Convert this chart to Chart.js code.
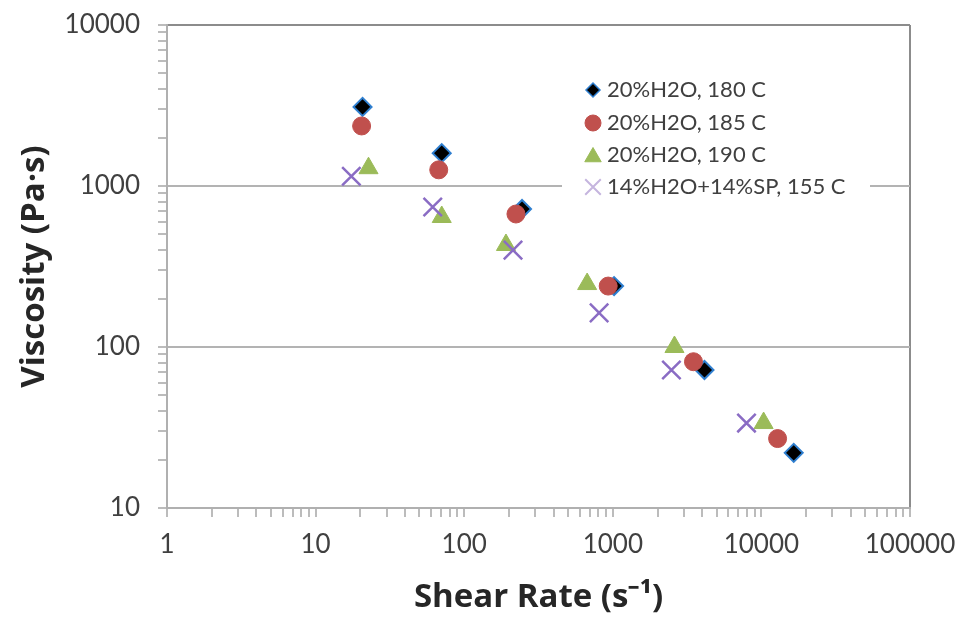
<!DOCTYPE html>
<html><head><meta charset="utf-8">
<script src="https://cdn.jsdelivr.net/npm/chart.js@4.4.1/dist/chart.umd.min.js"></script>
<style>html,body{margin:0;padding:0;background:#fff;} canvas{display:block;}</style>
</head><body>
<canvas id="c" width="961" height="624"></canvas>
<script>
const seriesLabels = ['20%H2O, 180 C', '20%H2O, 185 C', '20%H2O, 190 C', '14%H2O+14%SP, 155 C'];
const rate180 = [20.7, 70.6, 245, 1020, 4140, 16500];
const visc180 = [3100, 1600, 720, 239, 72, 22];
const rate185 = [20.4, 67.4, 223, 931, 3490, 12850];
const visc185 = [2360, 1260, 670, 239, 81, 27];
const rate190 = [22.7, 70.6, 191, 672, 2600, 10350];
const visc190 = [1290, 642, 430, 246, 100, 33.7];
const rate155 = [17.4, 61.4, 213, 809, 2480, 7940];
const visc155 = [1150, 741, 400, 163, 72, 33.7];
const xTickLabels = [1, 10, 100, 1000, 10000, 100000];
const yTickLabels = [10, 100, 1000, 10000];

function pts(xs, ys) { return xs.map((x, i) => ({x: x, y: ys[i]})); }
function logTicks(labels) {
  const out = [];
  for (let i = 0; i < labels.length; i++) {
    const d = labels[i];
    out.push({value: d, major: true});
    if (i < labels.length - 1) for (let m = 2; m <= 9; m++) out.push({value: d * m});
  }
  return out;
}

const legendPlugin = {
  id: 'boxLegend',
  afterDatasetsDraw(chart) {
    const ctx = chart.ctx;
    ctx.save();
    ctx.fillStyle = '#ffffff';
    ctx.fillRect(562, 68, 308, 138);
    const rows = [90, 123, 155, 187];
    const mk = [
      {pointStyle: 'rectRot', radius: 7, borderWidth: 1.5, fill: '#000000', stroke: '#2f7fd0'},
      {pointStyle: 'circle', radius: 8, borderWidth: 1, fill: '#c0504d', stroke: '#c0504d'},
      {pointStyle: 'triangle', radius: 9.5, borderWidth: 1, fill: '#9bbb59', stroke: '#9bbb59'},
      {pointStyle: 'crossRot', radius: 11, borderWidth: 2, fill: '#c5b5de', stroke: '#c5b5de'}
    ];
    for (let i = 0; i < seriesLabels.length; i++) {
      const m = mk[i];
      ctx.fillStyle = m.fill; ctx.strokeStyle = m.stroke; ctx.lineWidth = m.borderWidth;
      const yy = m.pointStyle === 'triangle' ? rows[i] + 2 : rows[i];
      Chart.helpers.drawPoint(ctx, {pointStyle: m.pointStyle, radius: m.radius, borderWidth: m.borderWidth, rotation: 0}, 593, yy);
      ctx.fillStyle = '#404040';
      ctx.font = '22px Lato';
      ctx.textBaseline = 'middle';
      ctx.textAlign = 'left';
      ctx.fillText(seriesLabels[i], 607, rows[i]);
    }
    ctx.restore();
  }
};

new Chart(document.getElementById('c'), {
  type: 'scatter',
  data: {
    datasets: [
      {label: seriesLabels[0], data: pts(rate180, visc180), pointStyle: 'rectRot', pointRadius: 9, pointHoverRadius: 9,
       backgroundColor: '#000000', borderColor: '#2f7fd0', borderWidth: 2, order: 4},
      {label: seriesLabels[1], data: pts(rate185, visc185), pointStyle: 'circle', pointRadius: 9, pointHoverRadius: 9,
       backgroundColor: '#c0504d', borderColor: '#c0504d', borderWidth: 1, order: 3},
      {label: seriesLabels[2], data: pts(rate190, visc190), pointStyle: 'triangle', pointRadius: 11, pointHoverRadius: 11,
       backgroundColor: '#9bbb59', borderColor: '#9bbb59', borderWidth: 1, order: 2},
      {label: seriesLabels[3], data: pts(rate155, visc155), pointStyle: 'crossRot', pointRadius: 13, pointHoverRadius: 13,
       backgroundColor: '#8a6cc4', borderColor: '#8a6cc4', borderWidth: 2.5, order: 1}
    ]
  },
  options: {
    responsive: false,
    animation: false,
    devicePixelRatio: 1,
    layout: {padding: {top: 25, right: 51, left: 0, bottom: 0}},
    plugins: {legend: {display: false}, tooltip: {enabled: false}},
    scales: {
      x: {
        type: 'logarithmic', min: 1, max: 100000,
        afterBuildTicks(s) { s.ticks = logTicks(xTickLabels); },
        afterFit(s) { s.height = 116; s.paddingLeft = 0; s.paddingRight = 0; },
        ticks: {autoSkip: false, maxRotation: 0, padding: 12, color: '#404040', font: {family: 'Lato', size: 26},
                callback: (v) => xTickLabels.includes(v) ? String(v) : ''},
        grid: {
          color: (c) => (c.tick && c.tick.value === 100000) ? '#8c8c8c' : 'rgba(0,0,0,0)',
          lineWidth: 2, tickColor: '#a6a6a6', tickWidth: 1.5, tickLength: 9
        },
        border: {color: '#b0b0b0', width: 2},
        title: {display: true, text: 'Shear Rate (s\u207B\u00B9)', color: '#262626',
                font: {family: 'Open Sans', size: 33, weight: 'bold'}, padding: {top: 0, bottom: 7}}
      },
      y: {
        type: 'logarithmic', min: 10, max: 10000,
        afterBuildTicks(s) { s.ticks = logTicks(yTickLabels); },
        afterFit(s) { s.width = 167; s.paddingTop = 0; s.paddingBottom = 0; },
        ticks: {autoSkip: false, padding: 18, color: '#404040', font: {family: 'Lato', size: 26},
                callback: (v) => yTickLabels.includes(v) ? String(v) : ''},
        grid: {
          color: (c) => {
            const v = c.tick ? c.tick.value : 0;
            if (v === 10000) return '#8c8c8c';
            if (yTickLabels.includes(v)) return '#b3b3b3';
            return 'rgba(0,0,0,0)';
          },
          lineWidth: 2, tickColor: '#a6a6a6', tickWidth: 1.5, tickLength: 9
        },
        border: {color: '#b0b0b0', width: 2},
        title: {display: true, text: 'Viscosity (Pa\u00B7s)', color: '#262626',
                font: {family: 'Open Sans', size: 33, weight: 'bold'}, padding: {top: 15, bottom: 0}}
      }
    }
  },
  plugins: [legendPlugin]
});
</script>
</body></html>
